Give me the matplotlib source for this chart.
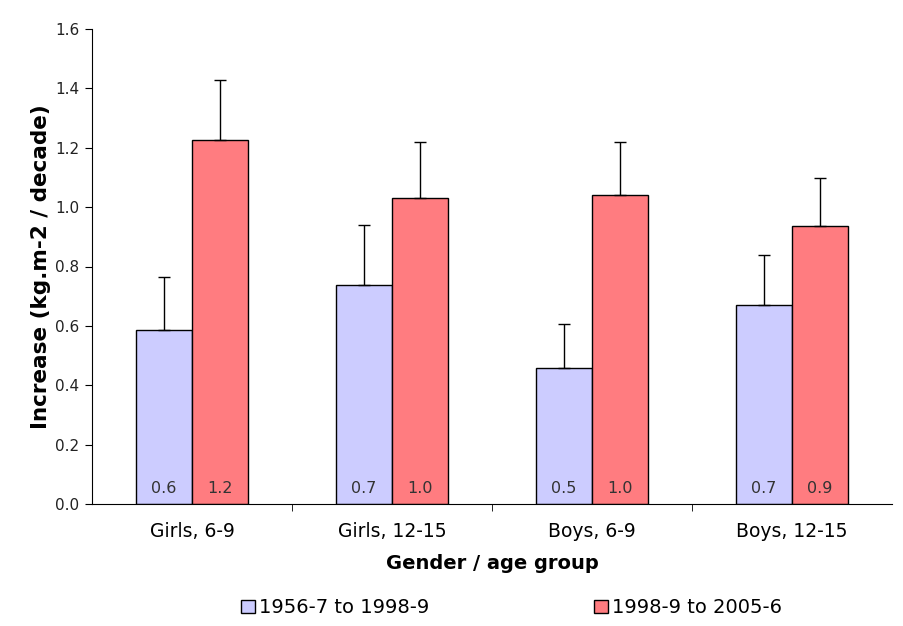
import matplotlib
matplotlib.use('Agg')
import matplotlib.pyplot as plt
import numpy as np

groups = ['Girls, 6-9', 'Girls, 12-15', 'Boys, 6-9', 'Boys, 12-15']
series_names = ['1956-7 to 1998-9', '1998-9 to 2005-6']
early = [0.586, 0.738, 0.457, 0.672]
early_upper = [0.765, 0.940, 0.606, 0.838]
recent = [1.227, 1.031, 1.040, 0.935]
recent_upper = [1.429, 1.219, 1.218, 1.097]
colors = ['#CCCCFF', '#FF7C80']

plt.rcParams['font.family'] = ['DejaVu Sans']

fig = plt.figure(figsize=(9.04, 6.26), dpi=100)
ax = fig.add_axes([92 / 904, 1 - 504 / 626, 800 / 904, 475 / 626])

x = np.arange(len(groups))
w = 0.28
for vals, upper, off, col, name in [(early, early_upper, -w / 2, colors[0], series_names[0]),
                                     (recent, recent_upper, w / 2, colors[1], series_names[1])]:
    err = [np.zeros(len(vals)), np.array(upper) - np.array(vals)]
    ax.bar(x + off, vals, w, color=col, edgecolor='black', linewidth=1.0,
           yerr=err, error_kw=dict(ecolor='black', elinewidth=1.0, capsize=4, capthick=1.0),
           label=name, zorder=2)
    for xi, v in zip(x + off, vals):
        ax.text(xi, 0.028, f'{v:.1f}', ha='center', va='bottom', fontsize=11.5, color='#333333')

ax.set_xlim(-0.5, 3.5)
ax.set_ylim(0, 1.6)
ax.set_yticks(np.arange(0, 1.61, 0.2))
ax.set_yticklabels([f'{t:.1f}' for t in np.arange(0, 1.61, 0.2)], fontsize=11, color='#222222')
ax.set_xticks(x)
ax.set_xticklabels(groups, fontsize=13.5)
ax.set_xticks(np.arange(0.5, 3.5, 1), minor=True)
ax.tick_params(axis='x', which='major', length=0, pad=13)
ax.tick_params(axis='x', which='minor', length=5, direction='out')
ax.tick_params(axis='y', length=5, direction='out', pad=4)

for s in ['top', 'right']:
    ax.spines[s].set_visible(False)

ax.set_xlabel('Gender / age group', fontsize=14, fontweight='bold', labelpad=9)
ax.set_ylabel('Increase (kg.m-2 / decade)', fontsize=15.5, fontweight='bold', labelpad=3)

handles, labels = ax.get_legend_handles_labels()
fig.legend(handles, labels, loc='lower center', bbox_to_anchor=(0.566, -0.014), ncol=2,
           frameon=False, fontsize=14, handlelength=0.7, handleheight=0.7,
           handletextpad=0.2, columnspacing=8.5)

fig.savefig('out.png', dpi=100)
